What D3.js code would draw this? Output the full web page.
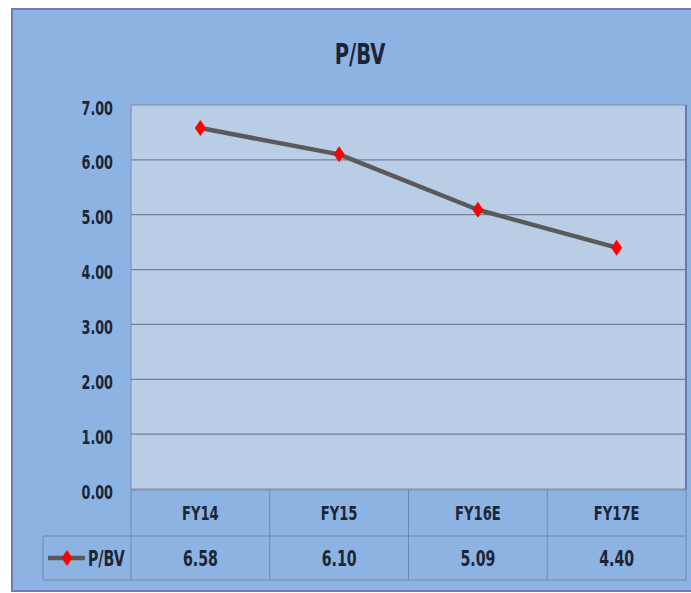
<!DOCTYPE html>
<html><head><meta charset="utf-8">
<script src="https://cdn.jsdelivr.net/npm/d3@7"></script>
<style>
html,body{margin:0;padding:0;background:#fff;}
svg text{font-family:"DejaVu Sans Condensed","DejaVu Sans",sans-serif;font-weight:bold;fill:#1C2536;}
</style></head><body>
<svg id="c" width="691" height="593"></svg>
<script>
const title = "P/BV";
const seriesName = "P/BV";
const categories = ["FY14","FY15","FY16E","FY17E"];
const values = [6.58, 6.10, 5.09, 4.40];
const valueLabels = ["6.58","6.10","5.09","4.40"];
const yTicks = [0,1,2,3,4,5,6,7];

const svg = d3.select("#c");
const L = 131, R = 686, T = 105, B = 489;
const row1 = 536, row2 = 580, legL = 43;

// helper: narrow text drawn at (x,y)
function ntext(parent, x, y, str, size, sx, anchor) {
  return parent.append("text")
    .attr("transform", `translate(${x},${y}) scale(${sx},1)`)
    .attr("text-anchor", anchor || "start")
    .style("font-size", size + "px").text(str);
}

// outer chart area
svg.append("rect").attr("x",12).attr("y",9).attr("width",700).attr("height",582)
  .attr("fill","#8DB3E2").attr("stroke","#7678BE").attr("stroke-width",2);

// title
ntext(svg, 360, 64, title, 29, 0.75, "middle");

const x = d3.scaleBand().domain(categories).range([L,R]);
const y = d3.scaleLinear().domain([0,7]).range([B,T]);

// plot area with slight shadow
svg.append("rect").attr("x",L+1).attr("y",T+2).attr("width",R-L).attr("height",B-T)
  .attr("fill","#7E95B5").attr("opacity",0.6);
svg.append("rect").attr("x",L).attr("y",T).attr("width",R-L).attr("height",B-T)
  .attr("fill","#B9CDE5").attr("stroke","#7C8DAA").attr("stroke-width",1);

// gridlines
svg.append("g").selectAll("line").data(yTicks.slice(1,-1)).join("line")
  .attr("x1",L).attr("x2",R).attr("y1",d=>y(d)).attr("y2",d=>y(d))
  .attr("stroke","#74839C").attr("stroke-width",1.3);

// y axis labels via axis, then narrowed
const yAxis = d3.axisLeft(y).tickValues(yTicks).tickFormat(d3.format(".2f")).tickSize(0).tickPadding(18);
const ga = svg.append("g").attr("transform",`translate(${L},0)`).call(yAxis);
ga.select(".domain").remove();
ga.selectAll("text").style("font-size","20px").attr("fill","#1C2536")
  .attr("x",null).attr("dy",null)
  .attr("transform","translate(-18,9) scale(0.71,1)");

// right plot edge
svg.append("line").attr("x1",R).attr("x2",R).attr("y1",T).attr("y2",B)
  .attr("stroke","#6E73B8").attr("stroke-width",2);

// line
const line = d3.line().x((d,i)=>x(categories[i])+x.bandwidth()/2).y(d=>y(d));
svg.append("path").datum(values).attr("d",line).attr("fill","none")
  .attr("stroke","#5A5A5A").attr("stroke-width",4.5).attr("stroke-linejoin","round");

const diamond = "M0,-8L5.5,0L0,8L-5.5,0Z";
svg.append("g").selectAll("path").data(values).join("path")
  .attr("transform",(d,i)=>`translate(${x(categories[i])+x.bandwidth()/2},${y(d)})`)
  .attr("d",diamond).attr("fill","#FF0000");

// data table
const tg = svg.append("g");
const gridC = "#6F87AC";
tg.append("line").attr("x1",legL).attr("x2",R).attr("y1",row1).attr("y2",row1).attr("stroke",gridC);
tg.append("line").attr("x1",legL).attr("x2",R).attr("y1",row2).attr("y2",row2).attr("stroke",gridC);
tg.append("line").attr("x1",legL).attr("x2",legL).attr("y1",row1).attr("y2",row2).attr("stroke",gridC);
tg.selectAll("line.v").data(categories.concat(["_end"])).join("line").attr("class","v")
  .attr("x1",(d,i)=>L+i*x.bandwidth()).attr("x2",(d,i)=>L+i*x.bandwidth())
  .attr("y1",B).attr("y2",row2).attr("stroke",gridC);
categories.forEach((c,i)=>{
  const cx = x(c)+x.bandwidth()/2;
  ntext(tg, cx, 520, c, 19, 0.77, "middle");
  ntext(tg, cx, 566, valueLabels[i], 21, 0.75, "middle");
});
// legend key
const ly = 558;
tg.append("line").attr("x1",48).attr("x2",85).attr("y1",ly).attr("y2",ly)
  .attr("stroke","#5A5A5A").attr("stroke-width",4.5);
tg.append("path").attr("transform",`translate(67,${ly})`).attr("d",diamond).attr("fill","#FF0000");
ntext(tg, 88, 566, seriesName, 21, 0.75, "start");
</script></body></html>
